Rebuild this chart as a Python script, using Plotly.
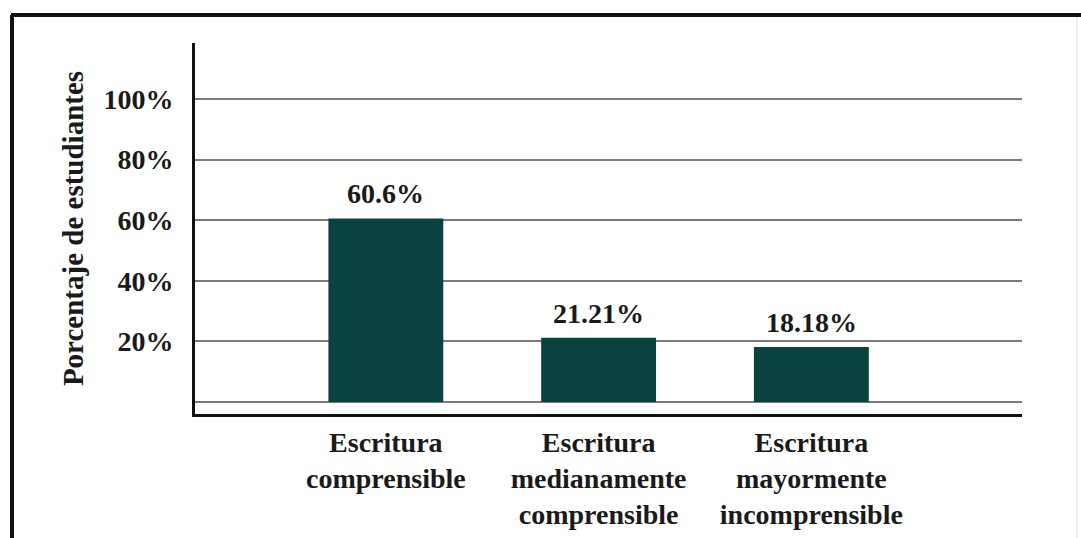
import plotly.graph_objects as go

# Data
categories = [
    "Escritura<br>comprensible",
    "Escritura<br>medianamente<br>comprensible",
    "Escritura<br>mayormente<br>incomprensible",
]
percentages = [60.6, 21.21, 18.18]
tick_values = [0, 20, 40, 60, 80, 100]
tick_labels = ["", "20%", "40%", "60%", "80%", "100%"]

# Canvas / plot area geometry (pixels)
W, H = 1081, 538
L, R, T, B = 195, 59, 43, 124
pw, ph = W - L - R, H - T - B

def px_x(x):
    return (x - L) / pw

def px_y(y):
    return 1 - (y - T) / ph

BAR_COLOR = "#0a4242"
FONT = "Liberation Serif"
TEXT = "#1a1a1a"

fig = go.Figure()
fig.add_trace(go.Bar(
    x=categories,
    y=percentages,
    width=0.54,
    marker=dict(color=BAR_COLOR, line=dict(width=0)),
    showlegend=False,
    hoverinfo="skip",
))

for cat, val in zip(categories, percentages):
    fig.add_annotation(
        x=cat, y=val, xref="x", yref="y",
        text=f"{val:g}%", showarrow=False,
        yanchor="bottom", yshift=7,
        font=dict(family=FONT, size=28, color=TEXT, weight="bold"),
    )

# Outer frame around the figure
frame = dict(type="line", xref="paper", yref="paper", layer="above")
fig.add_shape(**frame, x0=px_x(12), x1=px_x(12), y0=px_y(15), y1=px_y(545),
              line=dict(color="#111111", width=4))
fig.add_shape(**frame, x0=px_x(11), x1=px_x(1081), y0=px_y(15), y1=px_y(15),
              line=dict(color="#111111", width=4))
fig.add_shape(**frame, x0=px_x(1077), x1=px_x(1077), y0=px_y(17), y1=px_y(545),
              line=dict(color="#dddddd", width=1))

fig.update_layout(
    width=W, height=H,
    margin=dict(l=L, r=R, t=T, b=B, pad=0, autoexpand=False),
    paper_bgcolor="white",
    plot_bgcolor="white",
    font=dict(family=FONT, color=TEXT, weight="bold"),
    xaxis=dict(
        range=[-0.897, 2.99],
        automargin=False,
        showline=True, linecolor="#111111", linewidth=3,
        showgrid=False, ticks="",
        tickfont=dict(family=FONT, size=28, color=TEXT, weight="bold"),
        ticklabelstandoff=1,
        fixedrange=True,
    ),
    yaxis=dict(
        range=[-3.96, 118.5],
        automargin=False,
        tickvals=tick_values, ticktext=tick_labels,
        showline=True, linecolor="#111111", linewidth=3,
        showgrid=True, gridcolor="#7a7a7a", gridwidth=1.5,
        zeroline=False, ticks="",
        tickfont=dict(family=FONT, size=28, color=TEXT, weight="bold"),
        ticklabelstandoff=13,
        title=dict(text="Porcentaje de estudiantes",
                   font=dict(family=FONT, size=29, color=TEXT, weight="bold"),
                   standoff=12),
        fixedrange=True,
    ),
)

fig.write_html("out.html", config={"displayModeBar": False})
